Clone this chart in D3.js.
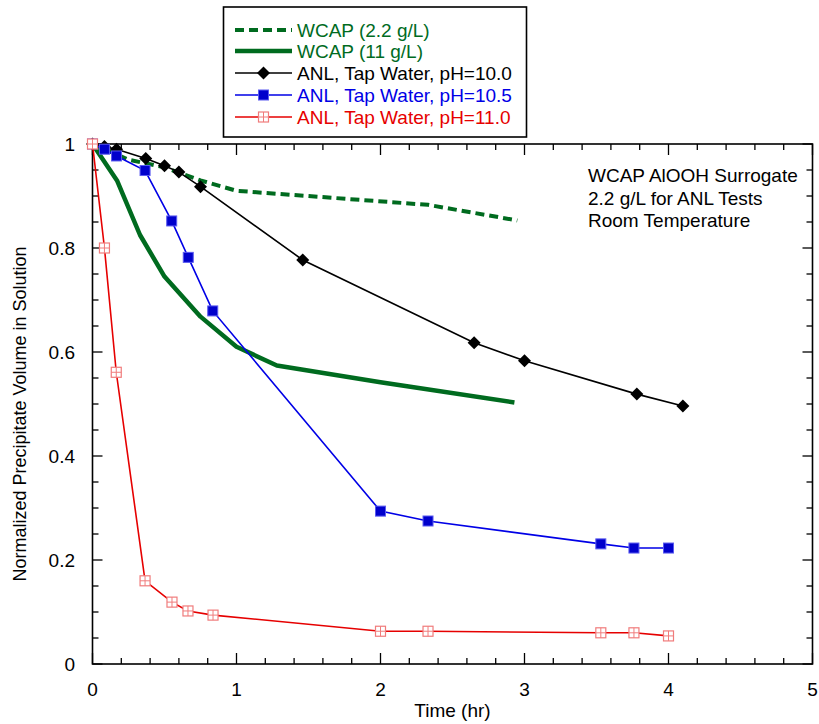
<!DOCTYPE html>
<html>
<head>
<meta charset="utf-8">
<script src="https://cdn.jsdelivr.net/npm/d3@7"></script>
<style>
  html, body { margin: 0; padding: 0; background: #fff; }
  svg { display: block; font-family: Arial, "Liberation Sans", sans-serif; }
</style>
</head>
<body>
<svg id="chart" width="819" height="724"></svg>
<script>
// ---- Data ----
const xTicks = [0, 1, 2, 3, 4, 5];
const yTicks = [0, 0.2, 0.4, 0.6, 0.8, 1];
const yTickLabels = ["0", "0.2", "0.4", "0.6", "0.8", "1"];

const wcap22Time = [0, 0.25, 0.5, 0.75, 1.0, 2.33, 2.95];
const wcap22Vol  = [1, 0.97, 0.955, 0.93, 0.91, 0.883, 0.853];

const wcap11Time = [0, 0.17, 0.33, 0.5, 0.75, 1.0, 1.28, 2.0, 2.93];
const wcap11Vol  = [1, 0.93, 0.825, 0.745, 0.668, 0.61, 0.574, 0.542, 0.503];

const ph100Time = [0, 0.083, 0.167, 0.37, 0.5, 0.6, 0.75, 1.46, 2.65, 3.0, 3.78, 4.1];
const ph100Vol  = [1, 0.995, 0.99, 0.972, 0.958, 0.946, 0.918, 0.777, 0.618, 0.583, 0.519, 0.496];

const ph105Time = [0, 0.083, 0.167, 0.365, 0.55, 0.665, 0.835, 2.0, 2.33, 3.53, 3.76, 4.0];
const ph105Vol  = [1, 0.99, 0.977, 0.949, 0.852, 0.782, 0.679, 0.294, 0.275, 0.231, 0.223, 0.223];

const ph110Time = [0, 0.083, 0.165, 0.365, 0.552, 0.663, 0.837, 2.0, 2.33, 3.53, 3.76, 4.0];
const ph110Vol  = [1, 0.8, 0.561, 0.16, 0.119, 0.102, 0.094, 0.063, 0.063, 0.06, 0.06, 0.054];

const legendLabels = ["WCAP (2.2 g/L)", "WCAP (11 g/L)", "ANL, Tap Water, pH=10.0", "ANL, Tap Water, pH=10.5", "ANL, Tap Water, pH=11.0"];
const noteLines = ["WCAP AlOOH Surrogate", "2.2 g/L for ANL Tests", "Room Temperature"];
const xTitle = "Time (hr)";
const yTitle = "Normalized Precipitate Volume in Solution";

// ---- Layout ----
const svg = d3.select("#chart");
const pLeft = 92.5, pRight = 812.5, pTop = 144, pBottom = 664;
const x = d3.scaleLinear().domain([0, 5]).range([pLeft, pRight]);
const y = d3.scaleLinear().domain([0, 1]).range([pBottom, pTop]);

const GREEN = "#006b1f", BLUE = "#0000e6", RED = "#e60000", MRED = "#f07c7c";
const FS = 19;

const zip = (a, b) => a.map((v, i) => [v, b[i]]);
const line = d3.line().x(d => x(d[0])).y(d => y(d[1]));

// ---- Axes (ticks inside, mirrored) ----
const g = svg.append("g");
const xMinor = d3.range(0, 5.0001, 0.2);
const yMinor = d3.range(0, 1.0001, 0.05);

function isMajor(v, step) { return Math.abs(v / step - Math.round(v / step)) < 1e-6; }

xMinor.forEach(v => {
  const len = isMajor(v, 1) ? 11 : 6;
  g.append("line").attr("x1", x(v)).attr("x2", x(v)).attr("y1", pBottom).attr("y2", pBottom - len)
    .attr("stroke", "#000").attr("stroke-width", 1.3);
  g.append("line").attr("x1", x(v)).attr("x2", x(v)).attr("y1", pTop).attr("y2", pTop + len)
    .attr("stroke", "#000").attr("stroke-width", 1.3);
});
yMinor.forEach(v => {
  const len = isMajor(v, 0.2) ? 10 : 6;
  g.append("line").attr("x1", pLeft).attr("x2", pLeft + len).attr("y1", y(v)).attr("y2", y(v))
    .attr("stroke", "#000").attr("stroke-width", 1.3);
  g.append("line").attr("x1", pRight).attr("x2", pRight - len).attr("y1", y(v)).attr("y2", y(v))
    .attr("stroke", "#000").attr("stroke-width", 1.3);
});
g.append("rect").attr("x", pLeft).attr("y", pTop).attr("width", pRight - pLeft).attr("height", pBottom - pTop)
  .attr("fill", "none").attr("stroke", "#000").attr("stroke-width", 1.6);

xTicks.forEach(v => {
  g.append("text").attr("x", x(v)).attr("y", 696).attr("text-anchor", "middle")
    .attr("font-size", FS).text(String(v));
});
yTicks.forEach((v, i) => {
  g.append("text").attr("x", 75).attr("y", y(v) + 7).attr("text-anchor", "end")
    .attr("font-size", FS).text(yTickLabels[i]);
});
svg.append("text").attr("x", (pLeft + pRight) / 2).attr("y", 717).attr("text-anchor", "middle")
  .attr("font-size", FS).text(xTitle);
svg.append("text").attr("transform", "translate(26,414) rotate(-90)").attr("text-anchor", "middle")
  .attr("font-size", 18).text(yTitle);

// ---- Series ----
const plot = svg.append("g");
plot.append("path").datum(zip(wcap22Time, wcap22Vol)).attr("d", line)
  .attr("fill", "none").attr("stroke", GREEN).attr("stroke-width", 4).attr("stroke-dasharray", "9,5");
plot.append("path").datum(zip(wcap11Time, wcap11Vol)).attr("d", line)
  .attr("fill", "none").attr("stroke", GREEN).attr("stroke-width", 4.5).attr("stroke-linejoin", "round");

function diamond(sel, cx, cy, r) {
  sel.append("path").attr("d", `M${cx},${cy - r}L${cx + r},${cy}L${cx},${cy + r}L${cx - r},${cy}Z`)
    .attr("fill", "#000");
}
function filledSquare(sel, cx, cy, s) {
  sel.append("rect").attr("x", cx - s / 2).attr("y", cy - s / 2).attr("width", s).attr("height", s)
    .attr("fill", "#0000cc").attr("stroke", "#5a5af0").attr("stroke-width", 1);
}
function openSquare(sel, cx, cy, s) {
  sel.append("rect").attr("x", cx - s / 2).attr("y", cy - s / 2).attr("width", s).attr("height", s)
    .attr("fill", "#fff").attr("stroke", MRED).attr("stroke-width", 1.2);
  sel.append("line").attr("x1", cx).attr("x2", cx).attr("y1", cy - s / 2).attr("y2", cy + s / 2)
    .attr("stroke", MRED).attr("stroke-width", 1);
  sel.append("line").attr("x1", cx - s / 2).attr("x2", cx + s / 2).attr("y1", cy).attr("y2", cy)
    .attr("stroke", MRED).attr("stroke-width", 1);
}

plot.append("path").datum(zip(ph100Time, ph100Vol)).attr("d", line)
  .attr("fill", "none").attr("stroke", "#000").attr("stroke-width", 1.6);
zip(ph100Time, ph100Vol).forEach(d => diamond(plot, x(d[0]), y(d[1]), 6.5));

plot.append("path").datum(zip(ph105Time, ph105Vol)).attr("d", line)
  .attr("fill", "none").attr("stroke", BLUE).attr("stroke-width", 1.6);
zip(ph105Time, ph105Vol).forEach(d => filledSquare(plot, x(d[0]), y(d[1]), 10));

plot.append("path").datum(zip(ph110Time, ph110Vol)).attr("d", line)
  .attr("fill", "none").attr("stroke", RED).attr("stroke-width", 1.6);
zip(ph110Time, ph110Vol).forEach(d => openSquare(plot, x(d[0]), y(d[1]), 10));

// ---- Annotation ----
noteLines.forEach((t, i) => {
  svg.append("text").attr("x", 588).attr("y", 182 + i * 22.5).attr("font-size", FS).text(t);
});

// ---- Legend ----
const lg = svg.append("g");
lg.append("rect").attr("x", 223.5).attr("y", 7).attr("width", 303).attr("height", 130)
  .attr("fill", "#fff").attr("stroke", "#000").attr("stroke-width", 1.6);
const rowY = [30, 51, 73, 95, 117];
const lx1 = 235, lx2 = 292, lxm = 263.5, tx = 297;
const colors = [GREEN, GREEN, "#000", BLUE, RED];
rowY.forEach((ry, i) => {
  const ln = lg.append("line").attr("x1", lx1).attr("x2", lx2).attr("y1", ry).attr("y2", ry)
    .attr("stroke", colors[i]);
  if (i === 0) ln.attr("stroke-width", 4).attr("stroke-dasharray", "9,5");
  else if (i === 1) ln.attr("stroke-width", 4.5);
  else ln.attr("stroke-width", 1.6);
  if (i === 2) diamond(lg, lxm, ry, 6.5);
  if (i === 3) filledSquare(lg, lxm, ry, 10);
  if (i === 4) openSquare(lg, lxm, ry, 10);
  lg.append("text").attr("x", tx).attr("y", ry + 7).attr("font-size", FS)
    .attr("fill", colors[i]).text(legendLabels[i]);
});
</script>
</body>
</html>
